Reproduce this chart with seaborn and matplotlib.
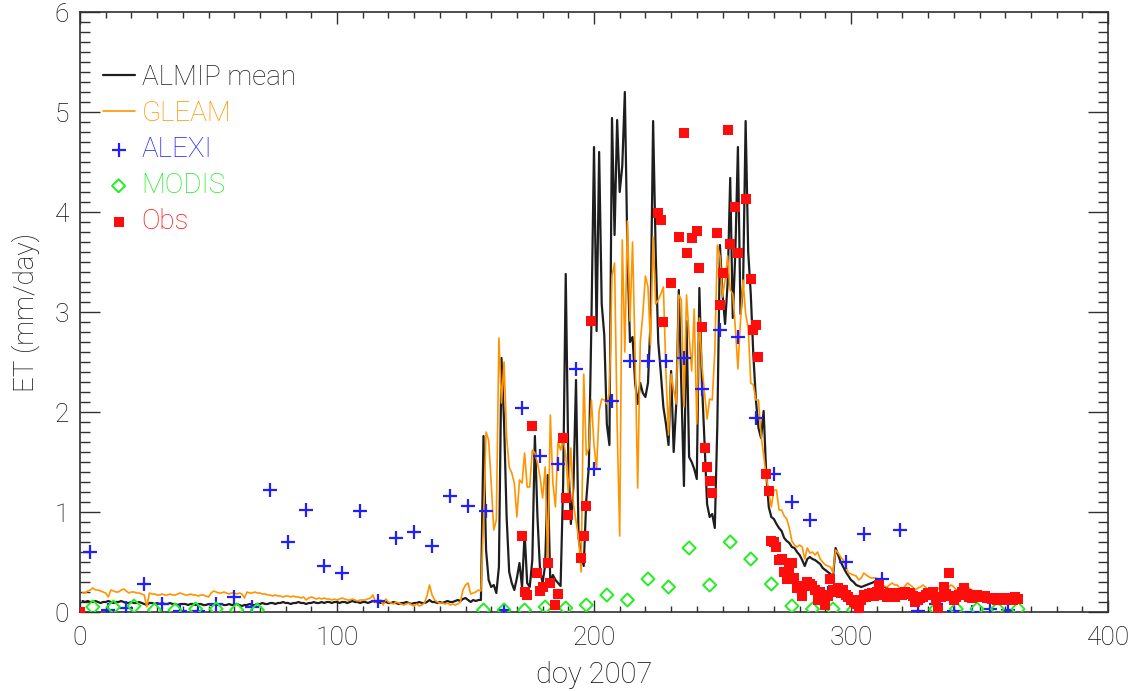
import numpy as np
import seaborn as sns
from matplotlib import pyplot as plt
from matplotlib.ticker import MultipleLocator

# daily series, day of year 1..365
DAYS = np.arange(1, 366)

ALMIP_MEAN = [
    0.11, 0.10, 0.11, 0.10, 0.10, 0.11, 0.10, 0.09, 0.10, 0.10,
    0.11, 0.10, 0.09, 0.10, 0.10, 0.11, 0.10, 0.09, 0.09, 0.10,
    0.09, 0.09, 0.10, 0.09, 0.08, 0.07, 0.09, 0.09, 0.08, 0.09,
    0.08, 0.09, 0.08, 0.08, 0.09, 0.08, 0.08, 0.07, 0.08, 0.08,
    0.08, 0.07, 0.08, 0.08, 0.07, 0.08, 0.08, 0.07, 0.07, 0.08,
    0.07, 0.08, 0.07, 0.07, 0.08, 0.07, 0.07, 0.08, 0.07, 0.07,
    0.08, 0.07, 0.06, 0.07, 0.07, 0.08, 0.07, 0.07, 0.08, 0.08,
    0.09, 0.08, 0.08, 0.09, 0.09, 0.08, 0.09, 0.09, 0.10, 0.09,
    0.09, 0.08, 0.09, 0.09, 0.10, 0.09, 0.09, 0.08, 0.09, 0.09,
    0.10, 0.09, 0.09, 0.10, 0.09, 0.10, 0.10, 0.09, 0.10, 0.10,
    0.09, 0.10, 0.10, 0.09, 0.10, 0.11, 0.10, 0.10, 0.09, 0.10,
    0.10, 0.09, 0.10, 0.11, 0.10, 0.10, 0.09, 0.10, 0.10, 0.09,
    0.09, 0.10, 0.09, 0.08, 0.09, 0.09, 0.10, 0.09, 0.08, 0.09,
    0.09, 0.10, 0.09, 0.09, 0.10, 0.12, 0.10, 0.10, 0.09, 0.10,
    0.09, 0.10, 0.11, 0.10, 0.10, 0.11, 0.12, 0.11, 0.13, 0.14,
    0.12, 0.10, 0.12, 0.11, 0.12, 0.12, 1.76, 0.62, 0.32, 0.25,
    0.27, 0.19, 0.45, 2.54, 1.90, 0.95, 0.40, 0.29, 0.22, 0.34,
    0.49, 0.25, 0.79, 0.29, 0.25, 0.52, 1.76, 0.95, 0.42, 0.29,
    0.47, 1.37, 0.29, 0.37, 0.32, 0.29, 0.26, 1.29, 3.38, 1.53,
    0.88, 1.26, 2.32, 0.74, 0.57, 0.46, 1.12, 1.46, 2.91, 4.65,
    2.81, 4.60, 3.08, 2.77, 1.88, 1.67, 4.94, 3.77, 4.92, 4.20,
    4.46, 5.20, 3.60, 2.70, 2.75, 2.29, 2.08, 2.29, 2.19, 2.15,
    2.29, 2.91, 4.91, 3.60, 2.70, 2.39, 2.05, 1.88, 1.67, 2.41,
    1.60, 2.08, 3.22, 2.22, 1.26, 2.91, 1.55, 1.50, 1.43, 1.33,
    3.24, 2.29, 1.70, 1.08, 0.95, 0.98, 0.84, 1.88, 3.67, 3.18,
    2.88, 3.29, 4.34, 2.94, 3.60, 4.65, 2.98, 3.25, 4.91, 3.60,
    3.18, 2.57, 2.12, 1.84, 1.74, 2.01, 1.39, 1.05, 0.95, 0.93,
    0.88, 0.84, 0.81, 0.74, 0.71, 0.69, 0.65, 0.64, 0.60, 0.57,
    0.52, 0.46, 0.53, 0.55, 0.53, 0.52, 0.50, 0.48, 0.44, 0.42,
    0.40, 0.38, 0.35, 0.64, 0.57, 0.50, 0.45, 0.40, 0.36, 0.32,
    0.30, 0.27, 0.26, 0.25, 0.26, 0.27, 0.28, 0.29, 0.30, 0.30,
    0.28, 0.27, 0.25, 0.24, 0.22, 0.20, 0.19, 0.18, 0.17, 0.16,
    0.15, 0.14, 0.15, 0.14, 0.13, 0.14, 0.15, 0.14, 0.13, 0.14,
    0.14, 0.13, 0.12, 0.13, 0.14, 0.15, 0.14, 0.13, 0.14, 0.15,
    0.14, 0.14, 0.13, 0.14, 0.15, 0.14, 0.13, 0.14, 0.14, 0.15,
    0.14, 0.13, 0.14, 0.14, 0.13, 0.14, 0.13, 0.13, 0.14, 0.13,
    0.13, 0.14, 0.13, 0.13, 0.14,
]

GLEAM = [
    0.19, 0.19, 0.21, 0.22, 0.24, 0.22, 0.22, 0.21, 0.20, 0.19,
    0.15, 0.22, 0.21, 0.20, 0.20, 0.22, 0.23, 0.21, 0.19, 0.20,
    0.20, 0.19, 0.19, 0.18, 0.17, 0.05, 0.19, 0.18, 0.18, 0.17,
    0.17, 0.18, 0.17, 0.17, 0.18, 0.17, 0.17, 0.18, 0.19, 0.18,
    0.17, 0.17, 0.18, 0.17, 0.17, 0.16, 0.17, 0.17, 0.16, 0.15,
    0.19, 0.21, 0.20, 0.19, 0.19, 0.20, 0.19, 0.18, 0.19, 0.19,
    0.18, 0.19, 0.18, 0.14, 0.20, 0.19, 0.19, 0.20, 0.19, 0.19,
    0.18, 0.18, 0.17, 0.17, 0.16, 0.17, 0.16, 0.16, 0.15, 0.16,
    0.16, 0.15, 0.16, 0.15, 0.15, 0.14, 0.15, 0.12, 0.14, 0.15,
    0.14, 0.13, 0.14, 0.13, 0.14, 0.13, 0.13, 0.12, 0.13, 0.12,
    0.13, 0.14, 0.13, 0.12, 0.12, 0.13, 0.12, 0.11, 0.12, 0.12,
    0.12, 0.13, 0.14, 0.17, 0.10, 0.11, 0.12, 0.07, 0.13, 0.10,
    0.09, 0.08, 0.10, 0.09, 0.08, 0.07, 0.08, 0.09, 0.07, 0.06,
    0.08, 0.06, 0.07, 0.09, 0.16, 0.27, 0.17, 0.12, 0.10, 0.09,
    0.09, 0.08, 0.09, 0.07, 0.08, 0.07, 0.08, 0.10, 0.22, 0.27,
    0.29, 0.18, 0.19, 0.20, 0.22, 0.21, 0.90, 1.80, 1.72, 1.29,
    0.82, 0.92, 2.74, 2.09, 2.50, 1.75, 1.45, 1.39, 1.29, 0.95,
    1.32, 1.29, 1.59, 1.25, 1.25, 1.62, 1.59, 1.49, 1.35, 1.14,
    1.45, 0.50, 1.97, 1.29, 1.05, 1.70, 1.62, 1.74, 1.57, 1.19,
    1.64, 1.08, 0.91, 0.74, 0.40, 2.38, 1.57, 1.64, 2.12, 1.67,
    1.43, 2.01, 2.13, 2.12, 2.08, 2.19, 3.36, 3.49, 1.88, 0.76,
    3.72, 2.60, 3.91, 2.91, 3.70, 2.57, 1.24, 2.70, 2.98, 3.36,
    3.25, 2.67, 3.75, 3.08, 3.12, 3.18, 3.25, 2.39, 1.77, 2.38,
    2.22, 2.08, 3.17, 3.12, 2.05, 3.17, 2.77, 2.41, 3.03, 1.88,
    2.94, 2.46, 2.19, 1.93, 2.13, 2.12, 2.60, 3.67, 3.56, 3.15,
    3.32, 3.56, 3.22, 3.18, 2.84, 2.43, 2.91, 3.32, 2.98, 2.84,
    2.29, 2.27, 2.12, 2.12, 1.77, 1.57, 1.36, 1.19, 1.05, 1.22,
    1.22, 1.02, 1.02, 0.96, 0.93, 0.84, 0.71, 0.67, 0.65, 0.67,
    0.65, 0.53, 0.64, 0.59, 0.60, 0.57, 0.60, 0.53, 0.50, 0.47,
    0.46, 0.45, 0.39, 0.62, 0.59, 0.55, 0.52, 0.45, 0.39, 0.38,
    0.37, 0.36, 0.32, 0.34, 0.39, 0.37, 0.35, 0.34, 0.34, 0.34,
    0.30, 0.27, 0.26, 0.25, 0.27, 0.29, 0.27, 0.27, 0.24, 0.22,
    0.26, 0.29, 0.27, 0.25, 0.22, 0.24, 0.25, 0.27, 0.25, 0.22,
    0.20, 0.14, 0.20, 0.24, 0.22, 0.20, 0.23, 0.25, 0.27, 0.25,
    0.22, 0.22, 0.23, 0.24, 0.24, 0.24, 0.22, 0.20, 0.20, 0.20,
    0.19, 0.19, 0.19, 0.18, 0.18, 0.18, 0.18, 0.18, 0.18, 0.18,
    0.18, 0.18, 0.18, 0.18, 0.18,
]

ALEXI_DAYS = [4, 11, 18, 25, 32, 39, 46, 53, 60, 67, 74, 81, 88, 95, 102, 109, 116,
              123, 130, 137, 144, 151, 158, 165, 172, 179, 186, 193, 200, 207, 214,
              221, 228, 235, 242, 249, 256, 263, 270, 277, 284, 291, 298, 305, 312,
              319, 326, 333, 340, 347, 354, 361]
ALEXI = [0.60, 0.02, 0.04, 0.28, 0.08, 0.01, 0.01, 0.08, 0.15, 0.05, 1.22, 0.70, 1.02,
         0.46, 0.39, 1.01, 0.11, 0.74, 0.80, 0.66, 1.16, 1.06, 1.01, 0.02, 2.04, 1.56,
         1.48, 2.43, 1.43, 2.11, 2.51, 2.51, 2.51, 2.54, 2.23, 2.82, 2.75, 1.94, 1.38,
         1.10, 0.92, 0.19, 0.50, 0.78, 0.33, 0.82, 0.01, 0.08, 0.01, 0.00, 0.03, 0.02]

MODIS_DAYS = [5, 13, 21, 29, 37, 45, 53, 61, 69, 157, 165, 173, 181, 189, 197, 205, 213,
              221, 229, 237, 245, 253, 261, 269, 277, 285, 293, 301, 333, 341, 349, 357, 365]
MODIS = [0.05, 0.05, 0.06, 0.02, 0.02, 0.03, 0.03, 0.02, 0.02, 0.02, 0.02, 0.02, 0.05,
         0.04, 0.07, 0.17, 0.12, 0.33, 0.25, 0.64, 0.27, 0.70, 0.53, 0.28, 0.06, 0.03,
         0.03, 0.02, 0.03, 0.03, 0.03, 0.03, 0.03]

OBS_DAYS = [0, 172, 173, 174, 176, 178, 179, 180, 182, 183, 185, 186, 188, 189, 190, 195,
            196, 197, 199, 225, 226, 227, 230, 233, 235, 236, 238, 240, 241, 242, 243,
            244, 245, 246, 248, 249, 250, 252, 253, 255, 256, 259, 261, 262, 263, 264,
            267, 268, 269, 270, 271, 272, 273, 274, 275, 276, 277, 278, 279, 280, 281,
            282, 283, 284, 285, 286, 287, 288, 289, 290, 291, 292, 293, 294, 295, 296,
            297, 298, 299, 300, 301, 302, 303, 304, 305, 306, 307, 308, 309, 310, 311,
            312, 313, 314, 315, 316, 317, 318, 319, 320, 321, 322, 323, 324, 325, 326,
            327, 328, 329, 330, 331, 332, 333, 334, 335, 336, 337, 338, 339, 340, 341,
            342, 343, 344, 345, 346, 347, 348, 349, 350, 351, 352, 353, 354, 355, 356,
            357, 358, 359, 360, 361, 362, 363, 364, 365]
OBS = [0.00, 0.76, 0.20, 0.17, 1.86, 0.39, 0.21, 0.25, 0.49, 0.29, 0.07, 0.18, 1.74, 1.14,
       0.97, 0.54, 0.76, 1.06, 2.91, 3.99, 3.92, 2.90, 3.29, 3.75, 4.79, 3.59, 3.74, 3.81,
       3.44, 2.85, 1.64, 1.45, 1.31, 1.19, 3.79, 3.07, 3.39, 4.82, 3.68, 4.05, 3.59, 4.13,
       3.33, 2.82, 2.87, 2.55, 1.38, 1.21, 0.71, 0.70, 0.65, 0.52, 0.53, 0.40, 0.33, 0.43,
       0.49, 0.34, 0.24, 0.26, 0.16, 0.26, 0.30, 0.28, 0.26, 0.22, 0.12, 0.20, 0.17, 0.07,
       0.16, 0.33, 0.22, 0.20, 0.24, 0.19, 0.22, 0.17, 0.15, 0.12, 0.10, 0.08, 0.02, 0.12,
       0.17, 0.15, 0.18, 0.19, 0.16, 0.20, 0.27, 0.18, 0.17, 0.15, 0.19, 0.18, 0.15, 0.17,
       0.19, 0.17, 0.20, 0.18, 0.19, 0.16, 0.10, 0.12, 0.14, 0.15, 0.17, 0.19, 0.18, 0.20,
       0.12, 0.02, 0.15, 0.25, 0.18, 0.39, 0.16, 0.12, 0.15, 0.17, 0.20, 0.24, 0.18, 0.15,
       0.14, 0.16, 0.17, 0.15, 0.15, 0.16, 0.14, 0.14, 0.13, 0.14, 0.12, 0.13, 0.12, 0.14,
       0.13, 0.14, 0.12, 0.15, 0.13]

COLORS = {
    'ALMIP mean': '#1e1e1e',
    'GLEAM': '#ff9400',
    'ALEXI': '#1f1fff',
    'MODIS': '#22ee22',
    'Obs': '#ff0d0d',
}


def plot_et_2007():
    sns.set_style('ticks')
    plt.rcParams['font.family'] = ['Roboto', 'DejaVu Sans']
    plt.rcParams['font.weight'] = 'light'
    plt.rcParams['axes.labelweight'] = 'light'

    fig = plt.figure(figsize=(11.38, 6.91), dpi=100)
    ax = fig.add_axes([80 / 1138, 1 - 612 / 691, 1028 / 1138, 600 / 691])

    sns.lineplot(x=DAYS, y=ALMIP_MEAN, color=COLORS['ALMIP mean'], lw=1.6,
                 label='ALMIP mean', ax=ax)
    sns.lineplot(x=DAYS, y=GLEAM, color=COLORS['GLEAM'], lw=1.2, label='GLEAM', ax=ax)
    sns.scatterplot(x=ALEXI_DAYS, y=ALEXI, marker='+', s=110, color=COLORS['ALEXI'],
                    linewidth=1.6, label='ALEXI', ax=ax, zorder=4)
    sns.scatterplot(x=MODIS_DAYS, y=MODIS, marker='D', s=44, color=COLORS['MODIS'],
                    facecolor='none', edgecolor=COLORS['MODIS'], linewidth=1.4,
                    label='MODIS', ax=ax, zorder=4)
    sns.scatterplot(x=OBS_DAYS, y=OBS, marker='s', s=52, color=COLORS['Obs'],
                    edgecolor=COLORS['Obs'], linewidth=0, label='Obs', ax=ax, zorder=5)

    ax.set_xlim(0, 400)
    ax.set_ylim(0, 6)
    ax.xaxis.set_major_locator(MultipleLocator(100))
    ax.xaxis.set_minor_locator(MultipleLocator(10))
    ax.yaxis.set_major_locator(MultipleLocator(1))
    ax.yaxis.set_minor_locator(MultipleLocator(0.1))
    ax.tick_params(which='both', direction='in', top=True, right=True,
                   color='#303030', width=1.0, labelsize=19, labelcolor='#111111')
    ax.tick_params(axis='x', which='major', length=8.6, pad=10)
    ax.tick_params(axis='x', which='minor', length=4.3)
    ax.tick_params(axis='y', which='major', length=14.4, pad=8)
    ax.tick_params(axis='y', which='minor', length=7.2)
    for spine in ax.spines.values():
        spine.set_color('#303030')
        spine.set_linewidth(1.2)

    ax.set_xlabel('doy 2007', fontsize=21, labelpad=8, color='#111111')
    ax.set_ylabel('ET (mm/day)', fontsize=20, labelpad=10, color='#111111')

    leg = ax.legend(loc='upper left', bbox_to_anchor=(0.022, 0.914), frameon=False,
                    fontsize=20, handlelength=1.15, handletextpad=0.25, labelspacing=0.33,
                    borderaxespad=0, borderpad=0, scatterpoints=1)
    for text in leg.get_texts():
        text.set_color(COLORS[text.get_text()])

    fig.savefig('out.png', dpi=100)


plot_et_2007()
